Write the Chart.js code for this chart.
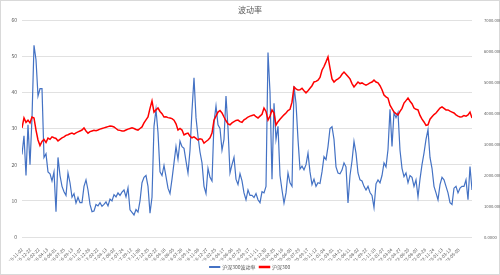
<!DOCTYPE html>
<html><head><meta charset="utf-8">
<script src="https://cdn.jsdelivr.net/npm/chart.js@4"></script>
<style>html,body{margin:0;padding:0;background:#fff}canvas{display:block}</style>
</head><body>
<canvas id="c" width="500" height="275"></canvas>
<script>
const xLabels = ['2015-11-02','2015-12-22','2016-02-22','2016-04-13','2016-06-01','2016-07-25','2016-09-13','2016-11-07','2016-12-26',
'2017-02-22','2017-04-13','2017-06-02','2017-07-24','2017-09-12','2017-11-06','2017-12-25',
'2018-02-22','2018-04-16','2018-06-05','2018-07-26','2018-09-14','2018-11-08','2018-12-27',
'2019-02-25','2019-04-17','2019-06-06','2019-07-29','2019-09-17','2019-11-11','2019-12-30',
'2020-02-25','2020-04-16','2020-06-08','2020-07-29','2020-09-17','2020-11-12',
'2021-01-04','2021-03-01','2021-04-21','2021-06-11','2021-08-02','2021-09-22','2021-11-18',
'2022-01-07','2022-03-04','2022-04-27','2022-06-20','2022-08-09','2022-09-28','2022-11-24',
'2023-01-13','2023-03-13','2023-05-05'];

const volatility = [
22.8,28,17,31,20,33,53,49,39,41,
41,22,23,18,17.5,15.5,18,7,22,17,
14,12.5,11.5,17.7,15,11,12,9.4,11,9.5,
9.5,14,15.8,13,9,7,7.2,9,8.6,9.5,
8.5,9,9.7,8.6,10.5,10,11.7,11.1,12.2,11.5,
12.4,13,11.1,13.6,7.5,6.8,6.1,7.6,6.9,10,
15,16.5,17,14,6.6,11,30.6,35.3,28.9,18,
17,19.8,16.7,13.5,12,16,20.5,25,21.5,26.5,
25,24.5,21,17.7,24,35,44,33,27.8,23.5,
20.5,14,12,19,16.5,15.5,31.7,36.2,31,30,
24,27,39,30,17.7,20,22,16,14.5,17.5,
15.5,12.2,10.3,13,11.5,11.5,10.9,12,10.3,9.5,
12.5,12.2,14,51,40,16,37,27,30.6,17,
13,9.4,12.2,17.7,15,14,41.7,37,27,18.8,
19.6,18.6,20,23.2,18,14.5,16,14,15,14.8,
18,22.2,21.4,25,30,30.5,27,19.4,17.7,17.5,
18.5,20.5,19.4,9.4,17,21,26.4,23.2,17.7,15.8,
15.5,14,13,14,12.3,11.5,8.1,14.7,15.8,15,
17,20.5,19.4,24.2,35.3,25,34.4,33,34.4,24,
19,16.7,17.7,15,17,16.5,14,15.8,11.1,16,
20,23.2,27,29.7,22,19,14,12.2,10.3,14.5,
16.5,15.8,14,12.2,9.5,9,13.5,14,12.2,13.5,
14,14,15.8,10.3,19.5,13];

const hs300 = [
3520,3840,3700,3770,3680,3870,3840,3450,3130,2950,
3080,3150,3050,3190,3150,3230,3200,3180,3100,3150,
3200,3230,3280,3300,3330,3350,3320,3360,3390,3420,
3450,3520,3420,3350,3400,3420,3440,3430,3450,3480,
3500,3520,3540,3560,3580,3570,3550,3500,3450,3440,
3420,3420,3450,3480,3500,3520,3500,3470,3450,3500,
3550,3680,3780,3870,4150,4390,4030,4100,4160,4050,
3980,3870,3880,3850,3840,3820,3770,3650,3450,3500,
3450,3290,3330,3350,3250,3200,3230,3180,3130,3170,
3150,3030,3080,3130,3200,3350,3770,3900,4030,4080,
4000,3870,3750,3650,3620,3680,3720,3760,3770,3720,
3700,3780,3820,3870,3900,3920,3940,3880,3840,3900,
3960,4160,4050,3770,3900,4100,4000,3610,3720,3800,
3870,3940,4000,4080,4120,4350,4840,4780,4740,4750,
4800,4720,4650,4720,4800,4880,5000,5020,5060,5150,
5380,5500,5650,5810,5450,5100,5000,5060,5100,5150,
5250,5320,5250,5180,5100,4950,4840,4920,5000,4950,
4970,4930,4900,4930,4970,5000,5060,5000,4970,4880,
4750,4580,4520,4480,4250,4140,4030,3980,3940,4050,
4150,4320,4400,4480,4380,4300,4160,4120,4100,3920,
3800,3710,3600,3620,3800,3880,3950,4000,4080,4160,
4200,4150,4100,4100,4060,4030,4000,3940,3900,3870,
3880,3920,3900,3940,4030,3840];

const seriesNames = ['沪深300波动率','沪深300'];
const F = "'Noto Sans CJK SC','Noto Sans',sans-serif";
const last = volatility.length - 1;
const tickStep = 4.2;

const frame = {
  id:'frame',
  beforeDraw(chart){
    const c = chart.ctx;
    c.save(); c.fillStyle='#fff'; c.fillRect(0,0,chart.width,chart.height);
    c.strokeStyle='#d9d9d9'; c.lineWidth=1; c.strokeRect(0.5,0.5,chart.width-1,chart.height-1);
    c.restore();
  }
};

new Chart(document.getElementById('c'), {
  type:'line',
  data:{
    datasets:[
      {label:seriesNames[0], data:volatility.map((v,i)=>({x:i,y:v})), yAxisID:'y',
       borderColor:'#4472C4', backgroundColor:'#4472C4', borderWidth:1.2, pointRadius:0, tension:0, order:1},
      {label:seriesNames[1], data:hs300.map((v,i)=>({x:i,y:v})), yAxisID:'y1',
       borderColor:'#FF0000', backgroundColor:'#FF0000', borderWidth:1.5, pointRadius:0, tension:0, order:0}
    ]
  },
  options:{
    responsive:false, animation:false, events:[],
    layout:{padding:{left:0,right:0,top:0,bottom:-4.5}},
    plugins:{
      title:{display:true,text:'波动率',color:'#595959',font:{size:8,family:F,weight:'normal'},padding:{top:5,bottom:5.4}},
      legend:{position:'bottom',labels:{font:{size:5,family:F},color:'#595959',boxWidth:10,boxHeight:1,padding:4,
        sort:(a,b)=>a.datasetIndex-b.datasetIndex}},
      tooltip:{enabled:false}
    },
    scales:{
      x:{type:'linear',min:0,max:last,
        grid:{display:false}, border:{display:false},
        afterBuildTicks:s=>{ s.ticks = xLabels.map((_,k)=>({value:k*tickStep})); },
        ticks:{autoSkip:false,maxRotation:45,minRotation:45,font:{size:4.5,family:F},color:'#595959',padding:2,
          callback:(v,i)=>xLabels[i]},
        afterFit:s=>{ s.height = 23.5; }
      },
      y:{position:'left',min:0,max:60,
        ticks:{stepSize:10,font:{size:5,family:F},color:'#595959',padding:5},
        grid:{color:'#d9d9d9',drawTicks:false,lineWidth:0.8}, border:{display:false},
        afterFit:s=>{ s.width = 22; }
      },
      y1:{position:'right',min:0,max:7000,
        ticks:{stepSize:1000,font:{size:4.2,family:F},color:'#595959',padding:4,callback:v=>Number(v).toFixed(4)},
        grid:{display:false}, border:{display:false},
        afterFit:s=>{ s.width = 28; }
      }
    }
  },
  plugins:[frame]
});
</script>
</body></html>
